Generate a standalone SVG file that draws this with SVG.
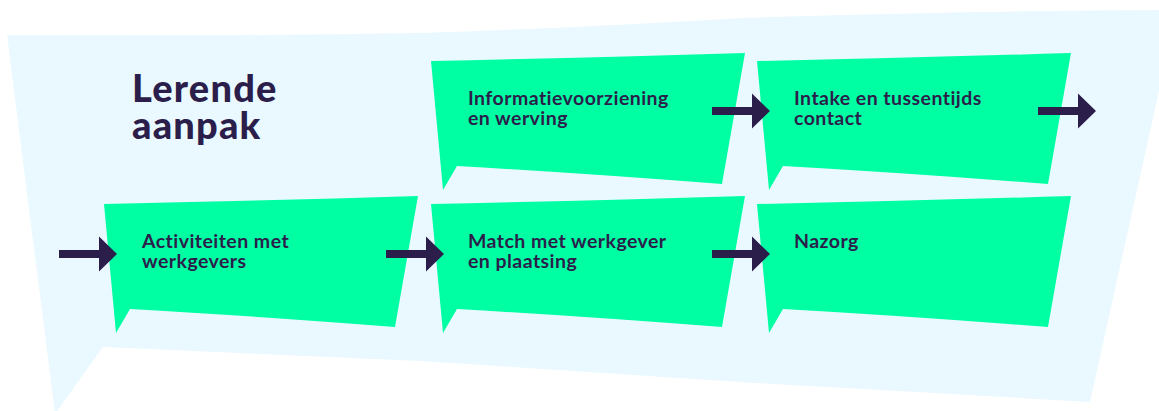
<svg xmlns="http://www.w3.org/2000/svg" width="1159" height="411" viewBox="0 0 1159 411">
<defs>
<style>
.bg{fill:#eaf9ff}
.box{fill:#00ffa3}
.arrow{fill:#2b1e4b}
.lbl{font-family:Lato,"Liberation Sans",sans-serif;font-weight:700;font-size:19.5px;letter-spacing:0.45px;fill:#2b1e4b}
.title{font-family:Lato,"Liberation Sans",sans-serif;font-weight:900;font-size:38px;letter-spacing:1.2px;fill:#2b1e4b}
</style>
<path id="boxshape" d="M0,0 Q150,-3 314,-8 L291,123 Q150,112 26,105 L12,129 Z"/>
<path id="arr" d="M0,-4 L40,-4 L40,-17.5 L58,0 L40,17.5 L40,4 L0,4 Z"/>
</defs>
<rect width="1159" height="411" fill="#ffffff"/>
<path class="bg" d="M7,35 Q250,36 420,33 Q600,27 740,18 Q950,11 1177,10 L1090,402 Q900,391 740,382 Q560,370 420,361 L103,347 L55,414 Z"/>
<text class="title" x="132" y="102"><tspan x="132" y="102">Lerende</tspan><tspan x="132" y="139">aanpak</tspan></text>
<g id="node-informatie">
<use href="#boxshape" class="box" x="431" y="61"/>
<text class="lbl"><tspan x="468" y="105">Informatievoorziening</tspan><tspan x="468" y="125">en werving</tspan></text>
</g>
<g id="node-intake">
<use href="#boxshape" class="box" x="757" y="61"/>
<text class="lbl"><tspan x="794" y="105">Intake en tussentijds</tspan><tspan x="794" y="125">contact</tspan></text>
</g>
<g id="node-activiteiten">
<use href="#boxshape" class="box" x="104" y="204"/>
<text class="lbl"><tspan x="142" y="248">Activiteiten met</tspan><tspan x="142" y="268">werkgevers</tspan></text>
</g>
<g id="node-match">
<use href="#boxshape" class="box" x="431" y="204"/>
<text class="lbl"><tspan x="468" y="248">Match met werkgever</tspan><tspan x="468" y="268">en plaatsing</tspan></text>
</g>
<g id="node-nazorg">
<use href="#boxshape" class="box" x="757" y="204"/>
<text class="lbl" x="794" y="248">Nazorg</text>
</g>
<g id="connectors">
<use href="#arr" class="arrow" x="712" y="111"/>
<use href="#arr" class="arrow" x="1038" y="111"/>
<use href="#arr" class="arrow" x="59" y="254"/>
<use href="#arr" class="arrow" x="386" y="254"/>
<use href="#arr" class="arrow" x="712" y="254"/>
</g>
</svg>
